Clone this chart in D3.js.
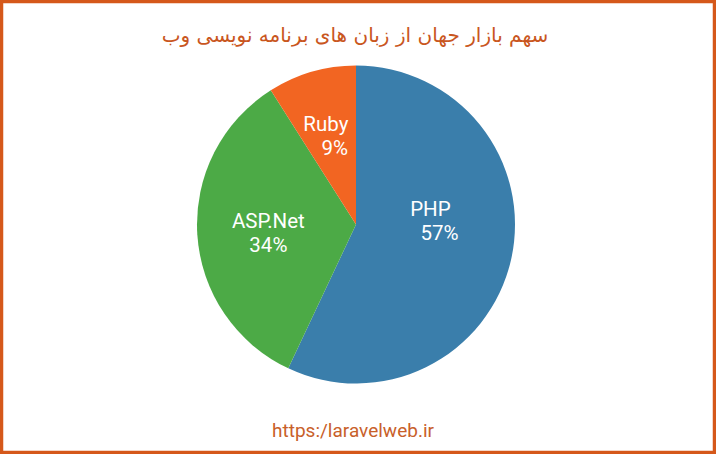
<!DOCTYPE html>
<html>
<head>
<meta charset="utf-8">
<script src="https://cdn.jsdelivr.net/npm/d3@7"></script>
<style>
  html, body { margin: 0; padding: 0; background: #fff; }
  svg { display: block; }
</style>
</head>
<body>
<div id="chart"></div>
<script>
// chart data
const languages = ['PHP', 'ASP.Net', 'Ruby'];
const shares = [57, 34, 9];
const sliceColors = ['#3a7eab', '#4caa46', '#f26522'];
const titleText = 'سهم بازار جهان از زبان های برنامه نویسی وب';
const footerText = 'https:/laravelweb.ir';

const width = 716, height = 454;
const cx = 356, cy = 224.5, radius = 159;

const svg = d3.select('#chart').append('svg')
  .attr('width', width)
  .attr('height', height);

// frame
svg.append('rect')
  .attr('x', 1.5).attr('y', 1.5)
  .attr('width', width - 3).attr('height', height - 3)
  .attr('fill', '#fff')
  .attr('stroke', '#d5581a')
  .attr('stroke-width', 3.5);

svg.append('text')
  .attr('x', 355)
  .attr('y', 36)
  .attr('text-anchor', 'middle')
  .attr('dominant-baseline', 'middle')
  .attr('direction', 'rtl')
  .style('font-family', '"DejaVu Sans", sans-serif')
  .style('font-size', '20px')
  .style('fill', '#c9561e')
  .text(titleText);

const data = languages.map((name, i) => ({name: name, value: shares[i], color: sliceColors[i]}));

const pie = d3.pie()
  .value(d => d.value)
  .sort(null);

const arc = d3.arc().innerRadius(0).outerRadius(radius);

const g = svg.append('g')
  .attr('transform', 'translate(' + cx + ',' + cy + ')');

const arcs = pie(data);

g.selectAll('path.slice')
  .data(arcs)
  .enter().append('path')
  .attr('class', 'slice')
  .attr('d', arc)
  .attr('fill', d => d.data.color);

// label placement: radius and small angle tweaks
const labelRadius = 92;
const angleTweak = {PHP: -0.267, 'ASP.Net': -0.03};
const radiusTweak = {PHP: 79, 'ASP.Net': 88};
const labels = g.selectAll('g.label')
  .data(arcs)
  .enter().append('g')
  .attr('class', 'label')
  .attr('transform', d => {
    const a = (d.startAngle + d.endAngle) / 2 + (angleTweak[d.data.name] || 0);
    const r = radiusTweak[d.data.name] || labelRadius;
    return 'translate(' + (Math.sin(a) * r) + ',' + (-Math.cos(a) * r) + ')';
  });

// names sit a little left of the percent on the right-side labels
const shift = d => d.data.name === 'ASP.Net' ? 0 : 4.5;

labels.append('text')
  .attr('text-anchor', 'middle')
  .attr('x', d => -shift(d))
  .attr('y', -5)
  .style('font-family', 'Roboto, sans-serif')
  .style('font-size', '20.5px')
  .style('fill', '#fff')
  .text(d => d.data.name);

labels.append('text')
  .attr('text-anchor', 'middle')
  .attr('x', d => shift(d))
  .attr('y', 19)
  .style('font-family', 'Roboto, sans-serif')
  .style('font-size', '20.5px')
  .style('fill', '#fff')
  .text(d => d.data.value + '%');

svg.append('text')
  .attr('x', 353)
  .attr('y', 437)
  .attr('text-anchor', 'middle')
  .style('font-family', 'Roboto, sans-serif')
  .style('font-size', '19px')
  .style('fill', '#c8602a')
  .text(footerText);
</script>
</body>
</html>
